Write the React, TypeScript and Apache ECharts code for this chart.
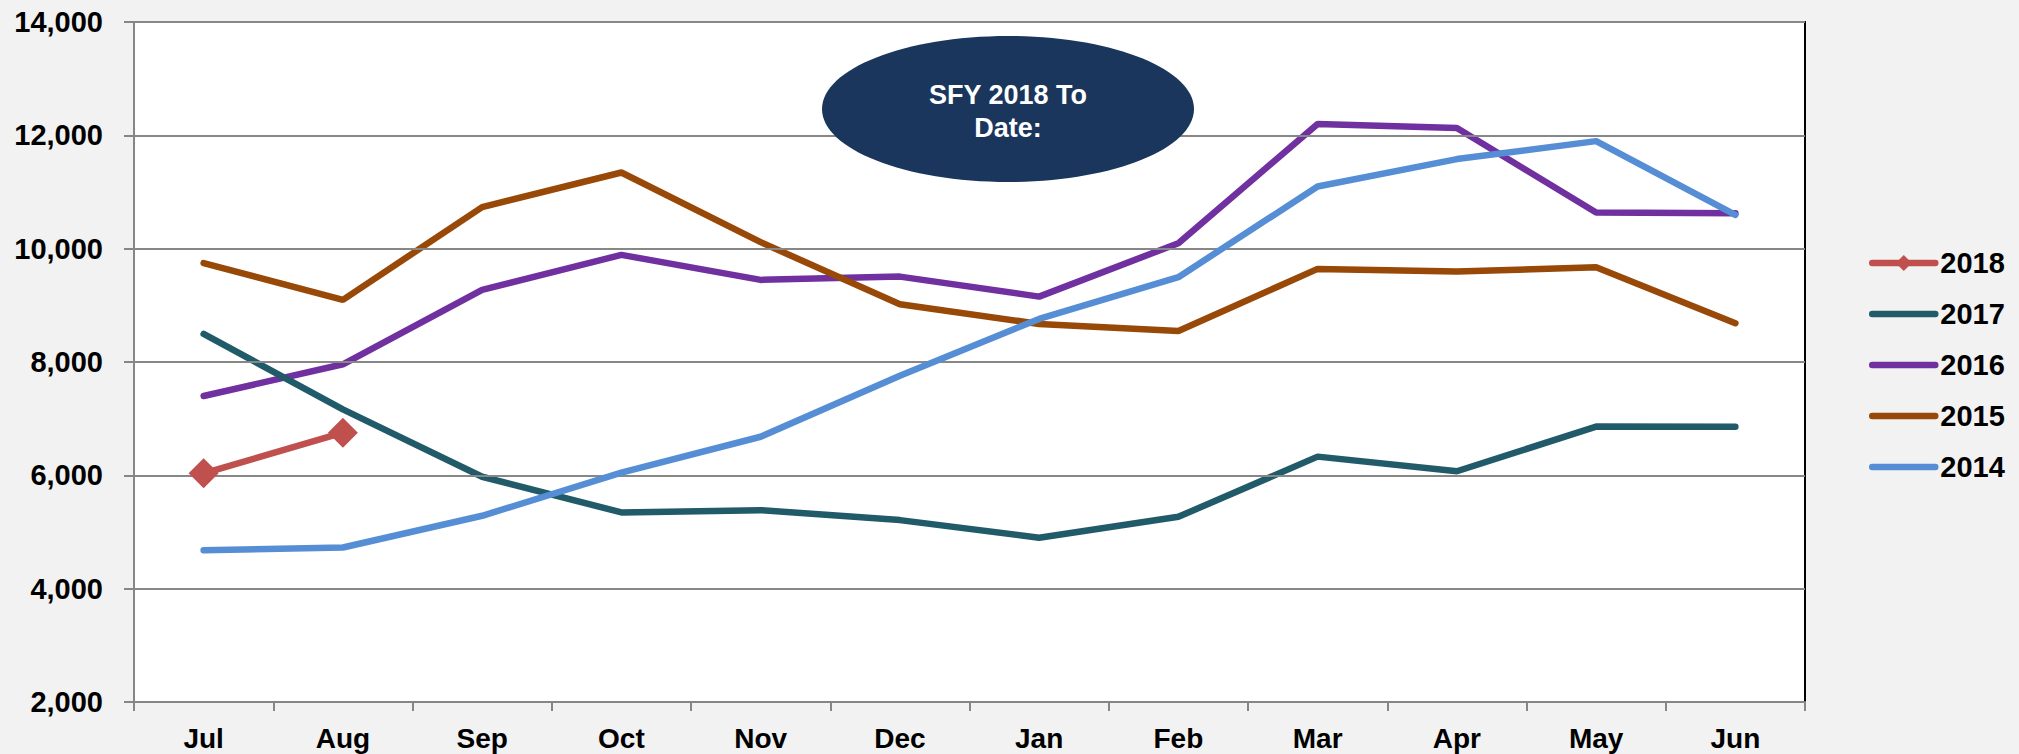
import React, { useEffect, useRef } from "react";
import * as echarts from "echarts";

const months = ["Jul", "Aug", "Sep", "Oct", "Nov", "Dec", "Jan", "Feb", "Mar", "Apr", "May", "Jun"];
const yearNames = ["2018", "2017", "2016", "2015", "2014"];
const values2018 = [6035, 6752];
const values2017 = [8495, 7165, 5975, 5346, 5386, 5210, 4898, 5268, 6330, 6072, 6860, 6858];
const values2016 = [7400, 7960, 9272, 9890, 9449, 9507, 9154, 10097, 12199, 12128, 10637, 10627];
const values2015 = [9744, 9096, 10733, 11344, 10115, 9020, 8672, 8548, 9643, 9596, 9673, 8684];
const values2014 = [4680, 4727, 5286, 6046, 6681, 7759, 8760, 9497, 11097, 11581, 11898, 10597];
const yTicks = [2000, 14000, 2000]; // min, max, interval
const calloutText = "SFY 2018 To\nDate:";

const colors: Record<string, string> = {
  "2018": "#C0504D",
  "2017": "#215A69",
  "2016": "#7030A0",
  "2015": "#984807",
  "2014": "#558ED5",
};

const FONT = "'Liberation Sans', Arial, sans-serif";

export default function App() {
  const ref = useRef<HTMLDivElement>(null);
  useEffect(() => {
    if (!ref.current) return;
    const chart = echarts.init(ref.current, null, { renderer: "svg" });
    const line = (name: string, data: number[], z: number, extra: any = {}) => ({
      name,
      type: "line",
      data,
      z,
      symbol: "none",
      lineStyle: { color: colors[name], width: 6.5, cap: "round" },
      itemStyle: { color: colors[name] },
      ...extra,
    });
    chart.setOption({
      animation: false,
      backgroundColor: "#F2F2F2",
      grid: {
        left: 134,
        right: 214,
        top: 22,
        bottom: 52,
        show: true,
        backgroundColor: "#FFFFFF",
        borderColor: "#000000",
        borderWidth: 2,
      },
      xAxis: {
        type: "category",
        data: months,
        boundaryGap: true,
        axisLine: { show: true, lineStyle: { color: "#868686", width: 2 } },
        axisTick: { show: true, length: 9, alignWithLabel: false, lineStyle: { color: "#868686", width: 2 } },
        axisLabel: {
          margin: 22,
          color: "#000",
          fontSize: 28,
          fontWeight: "bold",
          fontFamily: FONT,
          lineHeight: 28,
        },
        splitLine: { show: false },
        z: 5,
      },
      yAxis: {
        type: "value",
        min: yTicks[0],
        max: yTicks[1],
        interval: yTicks[2],
        axisLine: { show: true, lineStyle: { color: "#868686", width: 2 } },
        axisTick: { show: true, length: 10, lineStyle: { color: "#868686", width: 2 } },
        axisLabel: {
          margin: 31,
          color: "#000",
          fontSize: 29,
          fontWeight: "bold",
          fontFamily: FONT,
          formatter: (v: number) => v.toLocaleString("en-US"),
        },
        splitLine: { show: true, lineStyle: { color: "#878787", width: 2 } },
        z: 5,
      },
      legend: {
        orient: "vertical",
        left: 1869,
        top: 248,
        padding: 0,
        itemWidth: 63,
        itemHeight: 20,
        itemGap: 21,
        lineStyle: { width: 6.5, cap: "round" },
        data: yearNames.map((n) =>
          n === "2018" ? { name: n } : { name: n, itemStyle: { opacity: 0 } }
        ),
        textStyle: {
          color: "#000",
          fontSize: 29,
          fontWeight: "bold",
          fontFamily: FONT,
          lineHeight: 30,
        },
      },
      graphic: [
        {
          type: "ellipse",
          shape: { cx: 1008, cy: 109, rx: 186, ry: 73 },
          style: { fill: "#1A365D" },
          z: 100,
        },
        {
          type: "text",
          x: 1008,
          y: 111,
          z: 101,
          style: {
            text: calloutText,
            fill: "#FFFFFF",
            fontSize: 27,
            fontWeight: "bold",
            fontFamily: FONT,
            lineHeight: 33,
            align: "center",
            verticalAlign: "middle",
          },
        },
      ],
      series: [
        line("2016", values2016, 2),
        line("2015", values2015, 3),
        line("2017", values2017, 4),
        line("2018", values2018, 5, { symbol: "diamond", symbolSize: 30, showSymbol: true }),
        line("2014", values2014, 6),
      ],
    });
    return () => chart.dispose();
  }, []);
  return (
    <div
      ref={ref}
      style={{ position: "absolute", left: 0, top: 0, width: 2019, height: 754 }}
    />
  );
}
